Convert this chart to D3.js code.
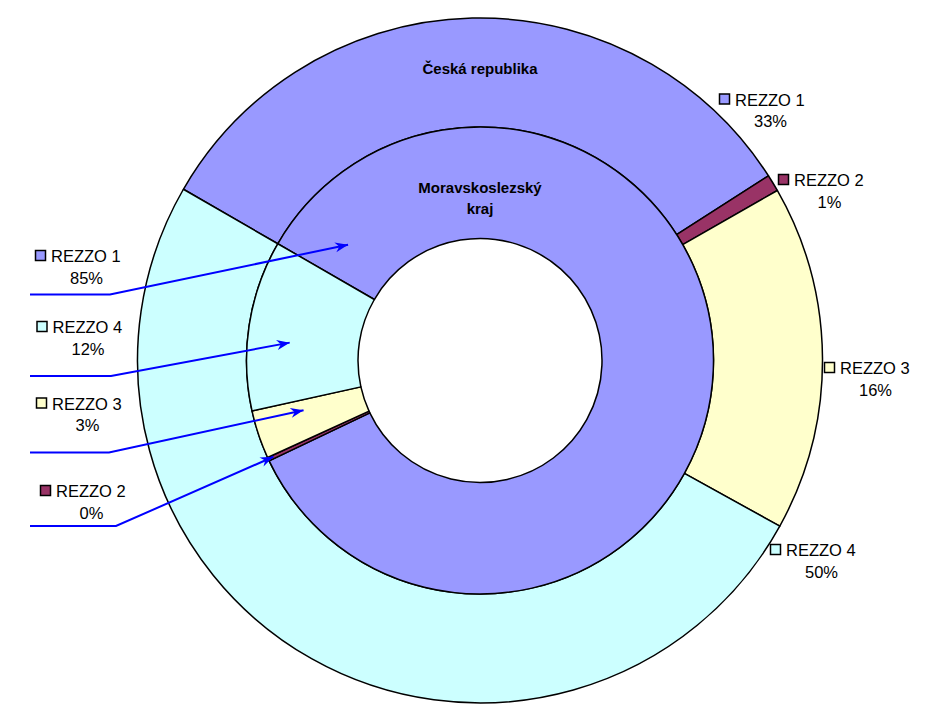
<!DOCTYPE html>
<html>
<head>
<meta charset="utf-8">
<script src="https://cdn.jsdelivr.net/npm/d3@7"></script>
<style>
  body { margin: 0; background: #fff; }
  text { font-family: "Liberation Sans", Arial, sans-serif; fill: #000; }
</style>
</head>
<body>
<svg width="933" height="724"></svg>
<script>
const categories = ['REZZO 1', 'REZZO 2', 'REZZO 3', 'REZZO 4']
const colors = ['#9999ff', '#993366', '#ffffcc', '#ccffff']
// podíly (%)
const outerValues = [32.6, 0.8, 16.3, 50.3]   // Česká republika
const innerValues = [84.6, 0.25, 3.35, 11.8]  // Moravskoslezský kraj
const outerTitle = ['Česká republika']
const innerTitle = ['Moravskoslezský', 'kraj']

// rozmístění popisků (kde je Excel nechal)
const outerLabelPos = [{x:719,y:105.5},{x:778,y:186},{x:824,y:374},{x:770,y:556}]
const innerLabelPos = [
  {x:35,y:262,ly:294.5,lx:110,t:0.037,r:0.48},
  {x:40,y:497,ly:526,lx:116,t:0.5,r:0.95},
  {x:36,y:409.5,ly:452.5,lx:109,t:0.73,r:0.55},
  {x:36.5,y:333,ly:376,lx:111,t:0.42,r:0.62}
]

const svg = d3.select('svg'),
  cx = 480, cy = 360.5,
  rHole = 122, rMid = 233.5, rOut = 342.5

const start = -60*Math.PI/180
const pie = d3.pie().sort(null).startAngle(start).endAngle(start + 2*Math.PI)

const g = svg.append('g').attr('transform',`translate(${cx},${cy})`)

const outerArc = d3.arc().innerRadius(rMid).outerRadius(rOut)
const innerArc = d3.arc().innerRadius(rHole).outerRadius(rMid)

const outerPie = pie(outerValues),
  innerPie = pie(innerValues)

g.selectAll('.outer').data(outerPie).enter().append('path')
  .attr('class','outer')
  .attr('d',outerArc)
  .attr('fill',(d,i) => colors[i])
  .attr('stroke','#000')
  .attr('stroke-width',1.5)
  .attr('stroke-linejoin','round')

g.selectAll('.inner').data(innerPie).enter().append('path')
  .attr('class','inner')
  .attr('d',innerArc)
  .attr('fill',(d,i) => colors[i])
  .attr('stroke','#000')
  .attr('stroke-width',1.5)
  .attr('stroke-linejoin','round')

// názvy prstenců
g.append('text')
  .attr('text-anchor','middle')
  .attr('y',-rOut + 56)
  .style('font-weight','bold').style('font-size','15px')
  .text(outerTitle[0])
g.selectAll('.ititle').data(innerTitle).enter().append('text')
  .attr('class','ititle')
  .attr('text-anchor','middle')
  .attr('y',(d,i) => -rMid + 66 + i*21)
  .style('font-weight','bold').style('font-size','15px')
  .text(d => d)

const pct = vals => {
  const s = d3.sum(vals)
  return vals.map(v => Math.round(v/s*100) + '%')
}

function drawLabels(pos, vals){
  const labs = svg.append('g')
  const p = pct(vals)
  const lab = labs.selectAll('g').data(categories).enter().append('g')
    .attr('transform',(d,i) => `translate(${pos[i].x},${pos[i].y})`)
  lab.append('rect')
    .attr('x',0.5).attr('y',-11.5)
    .attr('width',10).attr('height',10)
    .attr('fill',(d,i) => colors[i])
    .attr('stroke','#000').attr('stroke-width',1.5)
  lab.append('text')
    .attr('x',16)
    .style('font-size','16.5px')
    .text(d => d)
  lab.append('text')
    .attr('x',16 + 35.5)
    .attr('y',21.5)
    .attr('text-anchor','middle')
    .style('font-size','16.5px')
    .text((d,i) => p[i])
}

drawLabels(outerLabelPos, outerValues)
drawLabels(innerLabelPos, innerValues)

// šipky k vnitřnímu prstenci
svg.append('defs').append('marker')
  .attr('id','arr')
  .attr('viewBox','-14 -6 16 12')
  .attr('refX',0).attr('refY',0)
  .attr('markerWidth',16).attr('markerHeight',12)
  .attr('markerUnits','userSpaceOnUse')
  .attr('orient','auto')
  .append('path')
  .attr('d','M0,0 L-13,-5 L-9,0 L-13,5 Z')
  .attr('fill','#0000ff')

const leaders = svg.append('g')
innerPie.forEach((d,i) => {
  const lp = innerLabelPos[i]
  const a = d.startAngle + lp.t*(d.endAngle - d.startAngle)
  const r = rHole + lp.r*(rMid - rHole)
  const [tx,ty] = d3.pointRadial(a, r)
  leaders.append('path')
    .attr('d',d3.line()([[30,lp.ly],[lp.lx,lp.ly],[cx+tx,cy+ty]]))
    .attr('fill','none')
    .attr('stroke','#0000ff')
    .attr('stroke-width',2)
    .attr('marker-end','url(#arr)')
})
</script>
</body>
</html>
